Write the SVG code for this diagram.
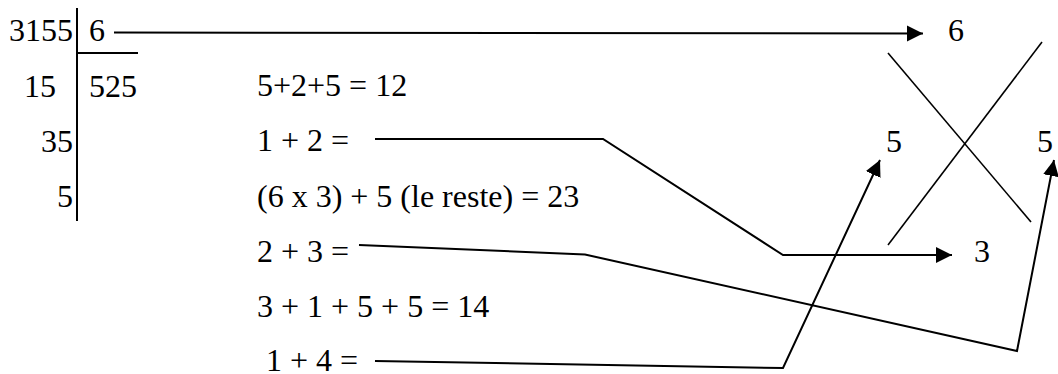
<svg xmlns="http://www.w3.org/2000/svg" width="1058" height="374" viewBox="0 0 1058 374" font-family="Liberation Serif, Times New Roman, serif" font-size="32">
<style>
.c{fill:none;stroke:#000;stroke-width:2;stroke-linejoin:miter}
.x{fill:none;stroke:#000;stroke-width:1.6}
</style>
<defs>
<marker id="ah" markerUnits="userSpaceOnUse" markerWidth="17" markerHeight="17" refX="16" refY="8" orient="auto">
<path d="M0,0 L16,8 L0,16 z" fill="#000"/>
</marker>
</defs>
<rect width="1058" height="374" fill="#fff"/>
<g id="division">
<line class="c" x1="77" y1="8" x2="77" y2="221"/>
<line class="c" x1="77" y1="53" x2="138" y2="53"/>
<text text-anchor="end" x="73" y="41">3155</text>
<text x="89" y="41">6</text>
<text x="24" y="97">15</text>
<text x="89" y="97">525</text>
<text text-anchor="end" x="73" y="152">35</text>
<text text-anchor="end" x="73" y="207">5</text>
</g>
<g id="steps">
<text x="257" y="96">5+2+5 = 12</text>
<text x="257" y="151">1 + 2 =</text>
<text x="257" y="207">(6 x 3) + 5 (le reste) = 23</text>
<text x="257" y="262">2 + 3 =</text>
<text x="257" y="317">3 + 1 + 5 + 5 = 14</text>
<text x="266" y="371">1 + 4 =</text>
</g>
<g id="result">
<line class="x" x1="888" y1="53" x2="1031" y2="222"/>
<line class="x" x1="1042" y1="42" x2="888" y2="245"/>
<text x="948" y="41">6</text>
<text x="886" y="152">5</text>
<text x="1037" y="152">5</text>
<text x="974" y="262">3</text>
</g>
<g id="connectors">
<polyline class="c" points="114,32.5 923,33.5" marker-end="url(#ah)"/>
<polyline class="c" points="375,139 603,139 783,255 952,255" marker-end="url(#ah)"/>
<polyline class="c" points="359,245 585,254.5 1017,351 1054,160" marker-end="url(#ah)"/>
<polyline class="c" points="375,361 783,368 880,160" marker-end="url(#ah)"/>
</g>
</svg>
